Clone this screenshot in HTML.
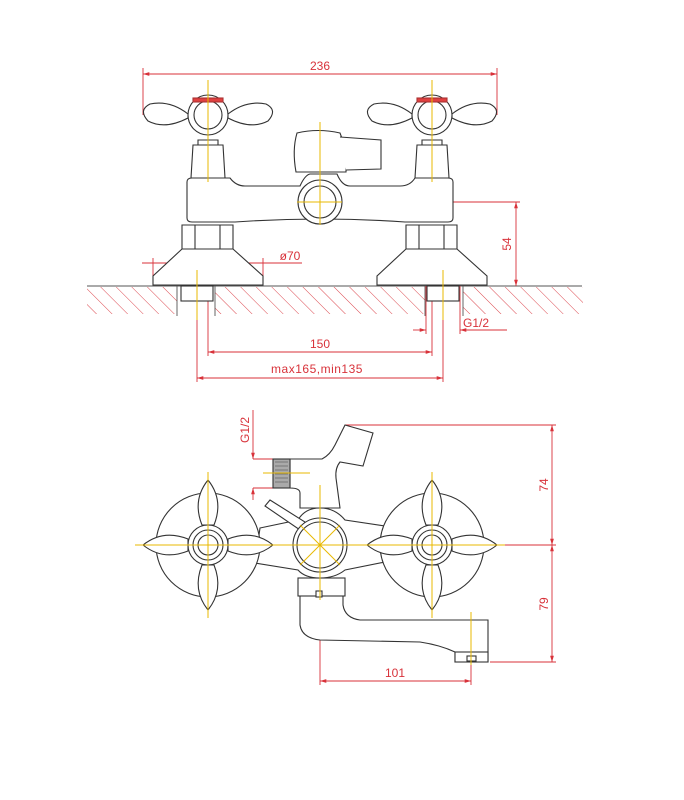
<!DOCTYPE html>
<html><head><meta charset="utf-8"><style>
html,body{margin:0;padding:0;background:#fff;}
svg{display:block;}
text{font-family:"Liberation Sans",sans-serif;fill:#d8323a;font-size:12px;}
</style></head><body>
<svg width="684" height="800" viewBox="0 0 684 800" xmlns="http://www.w3.org/2000/svg">
<defs>
<pattern id="h" width="11" height="11" patternUnits="userSpaceOnUse" patternTransform="rotate(-45)">
<line x1="0" y1="0" x2="0" y2="11" stroke="#d8323a" stroke-width="0.9"/>
</pattern>
<marker id="a" viewBox="0 0 10 10" refX="10" refY="5" markerWidth="7" markerHeight="7" orient="auto-start-reverse"><path d="M0,2 L10,5 L0,8" fill="#d8323a"/></marker>
</defs>

<!-- ===== TOP VIEW ===== -->
<g fill="none" stroke="#d8323a" stroke-width="0.9">
<rect x="87" y="287" width="90" height="27" fill="url(#h)" stroke="none"/>
<rect x="215" y="287" width="210" height="27" fill="url(#h)" stroke="none"/>
<rect x="463" y="287" width="120" height="27" fill="url(#h)" stroke="none"/>
<line x1="87" y1="286" x2="582" y2="286" stroke="#555"/>
<line x1="177" y1="286" x2="177" y2="316" stroke="#555"/><line x1="215" y1="286" x2="215" y2="316" stroke="#555"/>
<line x1="425" y1="286" x2="425" y2="316" stroke="#555"/><line x1="463" y1="286" x2="463" y2="316" stroke="#555"/>
<line x1="143" y1="74" x2="497" y2="74" marker-start="url(#a)" marker-end="url(#a)"/>
<line x1="143" y1="68" x2="143" y2="115"/><line x1="497" y1="68" x2="497" y2="115"/>
<line x1="340" y1="202" x2="520" y2="202"/>
<line x1="516" y1="202" x2="516" y2="286" marker-start="url(#a)" marker-end="url(#a)"/>
<line x1="142" y1="263" x2="302" y2="263"/>
<line x1="153" y1="258" x2="153" y2="276"/><line x1="263" y1="258" x2="263" y2="276"/>
<line x1="208" y1="352" x2="432" y2="352" marker-start="url(#a)" marker-end="url(#a)"/>
<line x1="208" y1="270" x2="208" y2="356"/><line x1="432" y1="270" x2="432" y2="356"/>
<line x1="197" y1="378" x2="443" y2="378" marker-start="url(#a)" marker-end="url(#a)"/>
<line x1="197" y1="278" x2="197" y2="382"/><line x1="443" y1="278" x2="443" y2="382"/>
<line x1="413" y1="330" x2="426" y2="330" marker-end="url(#a)"/>
<line x1="460" y1="330" x2="507" y2="330" marker-start="url(#a)"/>
<line x1="426" y1="286" x2="426" y2="334"/><line x1="460" y1="286" x2="460" y2="334"/>
</g>
<text x="320" y="70" text-anchor="middle">236</text>
<text x="290" y="260" text-anchor="middle">ø70</text>
<text x="320" y="348" text-anchor="middle">150</text>
<text x="317" y="373" text-anchor="middle" letter-spacing="0.5">max165,min135</text>
<text x="476" y="327" text-anchor="middle">G1/2</text>
<text transform="translate(511,244) rotate(-90)" text-anchor="middle">54</text>

<g fill="#fff" stroke="#333" stroke-width="1.1">
<rect x="181" y="286" width="32" height="15"/>
<rect x="427" y="286" width="32" height="15"/>
<path d="M182,249 L153,276 L153,285 L263,285 L263,276 L233,249 Z"/>
<path d="M406,249 L377,276 L377,285 L487,285 L487,276 L457,249 Z"/>
<path d="M182,225 L233,225 L233,249 L182,249 Z"/><line x1="195" y1="225" x2="195" y2="249"/><line x1="220" y1="225" x2="220" y2="249"/>
<path d="M406,225 L457,225 L457,249 L406,249 Z"/><line x1="419" y1="225" x2="419" y2="249"/><line x1="444" y1="225" x2="444" y2="249"/>
<path d="M187,182 Q187,178 192,178 L230,178 Q236,186 245,186 L300,186 Q305,175 310,174 L337,174 Q342,186 350,186 L400,186 Q410,186 415,178 L448,178 Q453,178 453,182 L453,218 Q453,222 448,222 L405,222 Q320,216 235,222 L192,222 Q187,222 187,218 Z"/>
<path d="M297,133 Q318,128 340,133 Q347,150 346,172 L296,172 Q292,150 297,133 Z"/>
<path d="M340,137 L381,140 L381,169 L346,170"/>
<path d="M193,145 L223,145 L225,178 L191,178 Z"/>
<path d="M417,145 L447,145 L449,178 L415,178 Z"/>
<path d="M188,114 Q170,100 150,104 Q138,110 148,121 Q165,130 188,118 Z"/>
<path d="M228,114 Q246,100 266,104 Q278,110 268,121 Q251,130 228,118 Z"/>
<path d="M412,114 Q394,100 374,104 Q362,110 372,121 Q389,130 412,118 Z"/>
<path d="M452,114 Q470,100 490,104 Q502,110 492,121 Q475,130 452,118 Z"/>
<circle cx="208" cy="115" r="20"/><circle cx="208" cy="115" r="14"/>
<circle cx="432" cy="115" r="20"/><circle cx="432" cy="115" r="14"/>
<path d="M198,140 L218,140 L218,145 L198,145 Z"/><path d="M422,140 L442,140 L442,145 L422,145 Z"/>
<rect x="193" y="98" width="30" height="4" fill="#e04040" stroke="#a33"/>
<rect x="417" y="98" width="30" height="4" fill="#e04040" stroke="#a33"/>
<circle cx="320" cy="202" r="22"/><circle cx="320" cy="202" r="16"/>
</g>
<g stroke="#e8b800" stroke-width="1" fill="none">
<line x1="208" y1="80" x2="208" y2="182"/><line x1="432" y1="80" x2="432" y2="182"/>
<line x1="320" y1="122" x2="320" y2="225"/><line x1="297" y1="202" x2="342" y2="202"/>
<line x1="197" y1="270" x2="197" y2="320"/><line x1="443" y1="270" x2="443" y2="320"/>
</g>

<!-- ===== BOTTOM VIEW ===== -->
<g fill="none" stroke="#d8323a" stroke-width="0.9">
<line x1="345" y1="425" x2="556" y2="425"/>
<line x1="505" y1="545" x2="556" y2="545"/>
<line x1="490" y1="662" x2="556" y2="662"/>
<line x1="552" y1="425" x2="552" y2="545" marker-start="url(#a)" marker-end="url(#a)"/>
<line x1="552" y1="545" x2="552" y2="662" marker-start="url(#a)" marker-end="url(#a)"/>
<line x1="320" y1="620" x2="320" y2="685"/><line x1="471" y1="618" x2="471" y2="685"/>
<line x1="320" y1="681" x2="471" y2="681" marker-start="url(#a)" marker-end="url(#a)"/>
<line x1="253" y1="459" x2="275" y2="459"/><line x1="253" y1="488" x2="275" y2="488"/>
<line x1="253" y1="410" x2="253" y2="459" marker-end="url(#a)"/>
<line x1="253" y1="488" x2="253" y2="500" marker-start="url(#a)"/>
</g>
<text x="395" y="677" text-anchor="middle">101</text>
<text transform="translate(548,485) rotate(-90)" text-anchor="middle">74</text>
<text transform="translate(548,604) rotate(-90)" text-anchor="middle">79</text>
<text transform="translate(249,430) rotate(-90)" text-anchor="middle">G1/2</text>

<g fill="#fff" stroke="#333" stroke-width="1.1">
<path d="M300,588 L300,625 Q302,638 320,640 L420,642 Q440,645 455,652 L455,662 L488,662 L488,620 L360,620 Q345,618 343,605 L343,588 Z"/>
<rect x="455" y="652" width="33" height="10"/>
<rect x="467" y="656" width="9" height="5"/>
<rect x="298" y="578" width="47" height="18"/>
<rect x="316" y="591" width="6" height="6"/>
<path d="M290,459 L322,459 Q330,455 335,445 L345,425 L373,433 L363,466 L340,462 Q335,468 336,478 L340,508 L300,508 L300,493 Q300,488 290,488 Z"/>
<rect x="273" y="459" width="17" height="29" fill="#aaa"/>
<g stroke="#555" stroke-width="0.6"><line x1="275" y1="462" x2="288" y2="462"/><line x1="275" y1="466" x2="288" y2="466"/><line x1="275" y1="470" x2="288" y2="470"/><line x1="275" y1="474" x2="288" y2="474"/><line x1="275" y1="478" x2="288" y2="478"/><line x1="275" y1="482" x2="288" y2="482"/></g>
<path d="M260,528 L298,520 Q305,508 320,508 Q335,508 345,520 L385,526 L385,562 L345,570 Q335,578 320,578 Q305,578 298,570 L255,563 Z"/>
<path d="M265,506 L270,500 L305,522 L300,530 Z"/>
<g id="hL">
<circle cx="208" cy="545" r="52"/>
<path d="M208,480 Q224,500 214,525 L202,525 Q192,500 208,480 Z"/>
<path d="M208,610 Q224,590 214,565 L202,565 Q192,590 208,610 Z"/>
<path d="M143,545 Q163,529 188,539 L188,551 Q163,561 143,545 Z"/>
<path d="M273,545 Q253,529 228,539 L228,551 Q253,561 273,545 Z"/>
<circle cx="208" cy="545" r="20"/><circle cx="208" cy="545" r="15"/><circle cx="208" cy="545" r="10"/>
</g>
<use href="#hL" x="224"/>
<circle cx="320" cy="545" r="27"/><circle cx="320" cy="545" r="23"/>
</g>
<g stroke="#e8b800" stroke-width="1" fill="none">
<line x1="135" y1="545" x2="505" y2="545"/>
<line x1="208" y1="472" x2="208" y2="618"/><line x1="432" y1="472" x2="432" y2="618"/>
<line x1="320" y1="485" x2="320" y2="600"/>
<line x1="300" y1="525" x2="340" y2="565"/><line x1="300" y1="565" x2="340" y2="525"/>
<line x1="263" y1="473" x2="310" y2="473"/>
<line x1="471" y1="612" x2="471" y2="665"/>
</g>
</svg>
</body></html>
